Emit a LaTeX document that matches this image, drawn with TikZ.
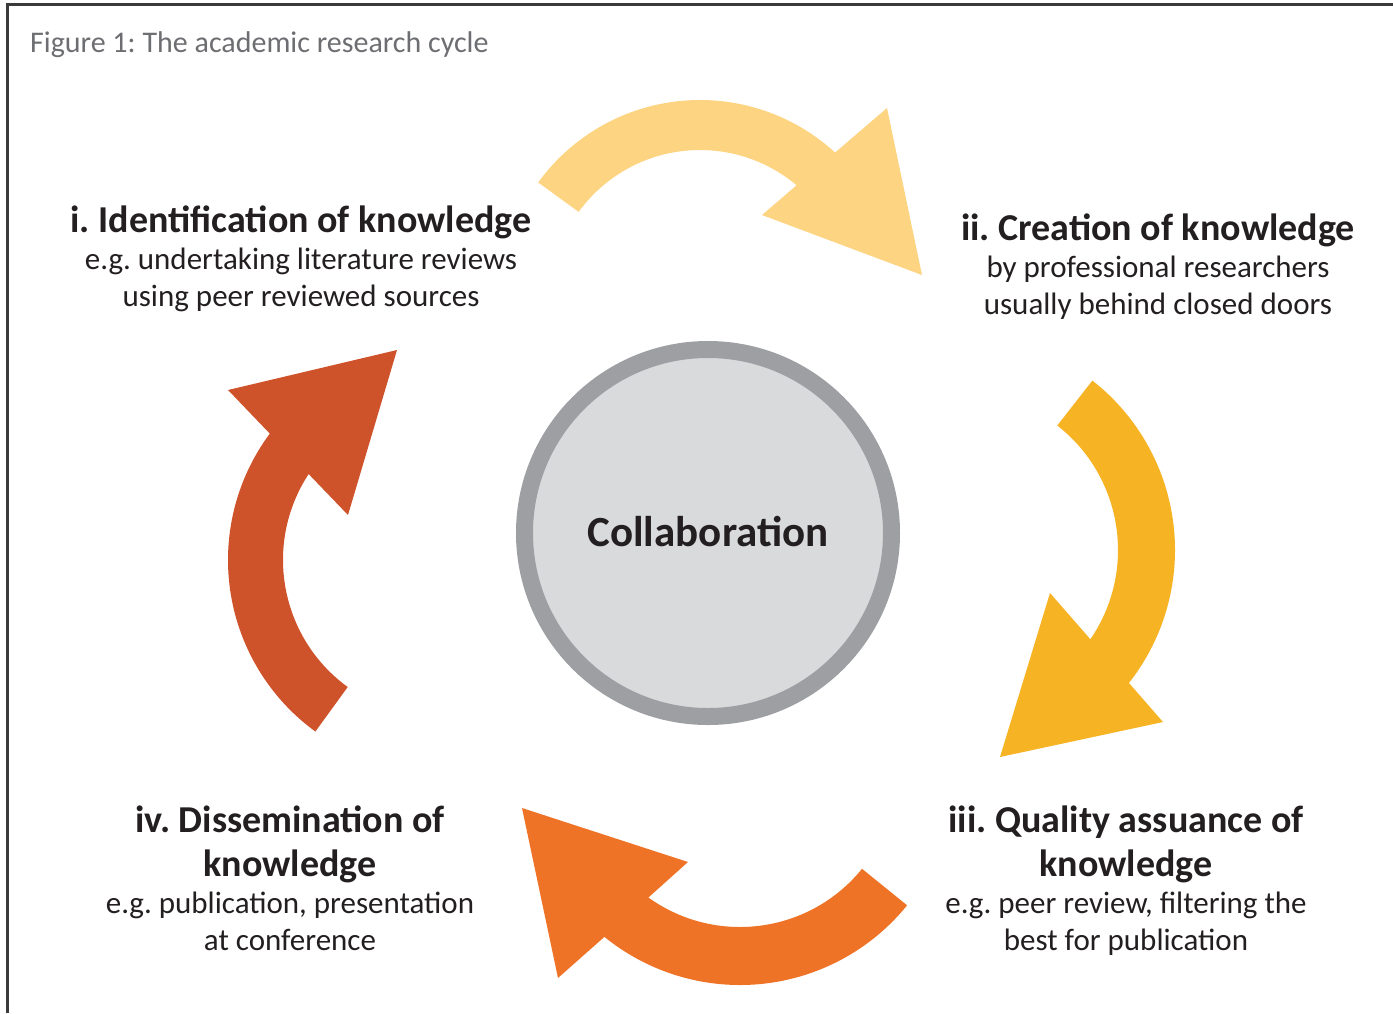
\documentclass[tikz,border=0pt]{standalone}
\usepackage{fontspec}
\setmainfont{Carlito}
\usepackage{tikz}
\frenchspacing

\definecolor{ink}{HTML}{231F20}
\definecolor{titlegray}{HTML}{6D6E71}
\definecolor{framegray}{HTML}{3A3A3A}
\definecolor{ringgray}{HTML}{9D9FA2}
\definecolor{hubgray}{HTML}{D9DADC}
\definecolor{cycleyellow}{HTML}{FDD481}
\definecolor{cyclegold}{HTML}{F6B324}
\definecolor{cycleorange}{HTML}{EE7326}
\definecolor{cyclered}{HTML}{CF532A}

\tikzset{
  stage/.style={align=center, inner sep=0pt, text=ink, font=\fontsize{31}{37}\selectfont},
  hub/.style={circle, draw=ringgray, line width=17pt, fill=hubgray, inner sep=0pt,
    minimum size=367pt, text=ink, font=\fontsize{43}{50}\selectfont\bfseries}
}

\newcommand{\stagehead}[1]{{\fontsize{38}{44}\selectfont\bfseries #1}}
\newcommand{\cyclestage}[3] {\node at (#1) (#2) [stage] {#3};}
\newcommand{\cyclearrow}[8] {\fill[#2] ([shift={(#3:#6)}]#1) arc[start angle=#3, end angle=#4, radius=#6]
  -- #8 -- ([shift={(#5:#7)}]#1) arc[start angle=#5, end angle=#3, radius=#7] -- cycle;}

\begin{document}
\begin{tikzpicture}[x=1pt, y=-1pt]

\useasboundingbox (0,0) rectangle (1393,1013);
\draw [framegray, line width=3pt] (7,1013) |- (1393,4);

\node at (30,52) (title) [anchor=base west, text=titlegray, inner sep=0pt,
  font=\fontsize{30}{36}\selectfont] {Figure 1: The academic research cycle};

\node at (708,533) (collab) [hub] {\raisebox{3pt}{Collaboration}};

\coordinate (topc) at (700,300);
\coordinate (rightc) at (960,550);
\coordinate (bottomc) at (740,770);
\coordinate (leftc) at (440,560);

\cyclearrow{topc}{cycleyellow}{216}{312.5}{310.1}{200}{150}{(887,108) -- (922,275) -- (762,215)}
\cyclearrow{rightc}{cyclegold}{-52}{38.2}{34.4}{215}{158}{(1163,722) -- (1000,757) -- (1050,593)}
\cyclearrow{bottomc}{cycleorange}{39}{129.1}{125.7}{215}{157}{(558,978) -- (522,808) -- (688,862)}
\cyclearrow{leftc}{cyclered}{126}{216.6}{213.2}{212}{157}{(228,390) -- (397,350) -- (348,515)}

\cyclestage{301,259}{identify}{\stagehead{i. Identification of knowledge}\\
  e.g. undertaking literature reviews\\ using peer reviewed sources}
\cyclestage{1158,267}{create}{\stagehead{ii. Creation of knowledge}\\
  by professional researchers\\ usually behind closed doors}
\cyclestage{1126,881}{assure}{\stagehead{iii. Quality assuance of}\\[7pt] \stagehead{knowledge}\\
  e.g. peer review, filtering the\\ best for publication}
\cyclestage{290,878}{spread}{\stagehead{iv. Dissemination of}\\[7pt] \stagehead{knowledge}\\
  e.g. publication, presentation\\ at conference}

\end{tikzpicture}
\end{document}
